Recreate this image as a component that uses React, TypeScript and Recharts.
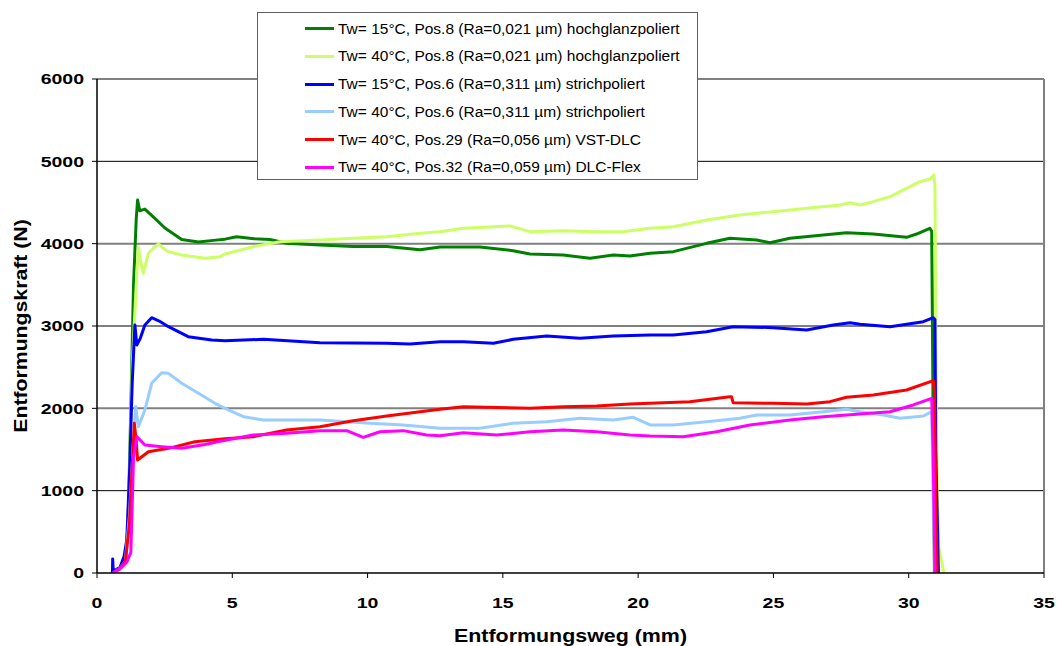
import React from 'react';
import { LineChart, Line, XAxis, YAxis, ReferenceLine, Label } from 'recharts';

// [Entformungsweg (mm), Entformungskraft (N)]
const TW15_POS8: [number, number][] = [
  [0.6, 0], [0.85, 60], [1.05, 140], [1.15, 600], [1.25, 2000], [1.35, 3500], [1.45, 4300], [1.5, 4530],
  [1.58, 4400], [1.77, 4420], [2.1, 4320], [2.51, 4190], [3.13, 4050], [3.75, 4020], [4.3, 4040], [4.73, 4055],
  [5.16, 4085], [5.8, 4060], [6.39, 4050], [7.01, 4005], [8.24, 3985], [9.47, 3965], [10.71, 3965], [11.94, 3925],
  [12.68, 3960], [14.15, 3960], [15.38, 3915], [16.0, 3875], [17.23, 3862], [18.22, 3822], [19.08, 3862], [19.7, 3850],
  [20.44, 3883], [21.3, 3903], [22.53, 4004], [23.39, 4065], [24.38, 4045], [24.87, 4012], [25.61, 4065], [26.84, 4105],
  [27.7, 4134], [28.69, 4117], [29.92, 4077], [30.29, 4117], [30.78, 4187], [30.85, 4150], [30.9, 2000], [30.95, 0],
];

const TW40_POS8: [number, number][] = [
  [0.6, 0], [0.85, 60], [1.05, 140], [1.15, 600], [1.3, 2500], [1.45, 3500], [1.53, 3963], [1.6, 3800],
  [1.71, 3640], [1.9, 3883], [2.1, 3950], [2.27, 3996], [2.45, 3944], [2.64, 3903], [3.13, 3862], [3.99, 3822],
  [4.55, 3842], [4.73, 3875], [5.78, 3963], [6.76, 4024], [8.24, 4045], [9.47, 4065], [10.71, 4085], [11.94, 4126],
  [12.68, 4146], [13.54, 4186], [15.26, 4215], [16.0, 4146], [17.23, 4158], [18.47, 4146], [19.45, 4146], [20.44, 4186],
  [21.3, 4206], [22.53, 4288], [23.76, 4348], [24.99, 4389], [26.23, 4430], [27.46, 4470], [27.83, 4498], [28.2, 4470],
  [28.69, 4510], [29.31, 4571], [29.92, 4672], [30.41, 4753], [30.78, 4782], [30.93, 4834], [30.97, 4700], [31.0, 3000],
  [31.05, 1000], [31.12, 300], [31.3, 0],
];

const TW15_POS6: [number, number][] = [
  [0.57, 0], [0.58, 170], [0.6, 20], [0.85, 70], [1.0, 200], [1.1, 400], [1.2, 1200], [1.3, 2300], [1.4, 3012],
  [1.47, 2770], [1.6, 2850], [1.77, 3012], [2.02, 3101], [2.3, 3060], [2.64, 2992], [3.37, 2870], [4.24, 2830],
  [4.73, 2822], [6.15, 2838], [8.24, 2797], [10.71, 2790], [11.57, 2781], [12.68, 2810], [13.54, 2810], [14.65, 2790],
  [15.38, 2838], [16.62, 2879], [17.85, 2851], [19.08, 2879], [20.44, 2891], [21.3, 2891], [22.53, 2931], [23.51, 2992],
  [24.99, 2980], [26.23, 2951], [27.21, 3012], [27.83, 3040], [28.2, 3021], [29.31, 2992], [30.54, 3052], [30.91, 3101],
  [30.97, 3080], [31.0, 1500], [31.1, 0],
];

const TW40_POS6: [number, number][] = [
  [0.6, 0], [0.85, 60], [1.05, 140], [1.2, 700], [1.35, 1600], [1.43, 2020], [1.53, 1777], [1.77, 1980],
  [2.02, 2304], [2.39, 2433], [2.64, 2425], [3.13, 2304], [3.75, 2183], [4.36, 2061], [4.73, 2000], [5.41, 1899],
  [6.15, 1858], [7.01, 1858], [8.24, 1858], [10.09, 1818], [11.32, 1798], [12.68, 1757], [14.15, 1757], [15.38, 1818],
  [16.62, 1838], [17.85, 1879], [19.08, 1858], [19.82, 1891], [20.44, 1798], [21.3, 1798], [22.53, 1838], [23.76, 1879],
  [24.38, 1919], [25.61, 1919], [26.84, 1959], [27.7, 1988], [28.2, 1959], [29.06, 1919], [29.68, 1879], [30.54, 1907],
  [30.85, 1959], [30.9, 1000], [30.97, 0],
];

const TW40_POS29: [number, number][] = [
  [0.6, 0], [0.85, 60], [1.05, 140], [1.2, 600], [1.3, 1300], [1.38, 1818], [1.45, 1600], [1.5, 1372],
  [1.9, 1473], [2.64, 1514], [3.62, 1595], [4.73, 1630], [5.78, 1656], [7.01, 1737], [8.24, 1777], [9.47, 1850],
  [10.71, 1907], [11.94, 1959], [12.68, 1988], [13.54, 2020], [16.0, 2000], [17.23, 2020], [18.47, 2028], [19.7, 2053],
  [20.44, 2061], [21.91, 2081], [23.39, 2142], [23.45, 2142], [23.51, 2069], [24.99, 2061], [26.23, 2053], [27.09, 2081],
  [27.7, 2134], [28.69, 2162], [29.92, 2223], [30.91, 2336], [30.95, 2200], [31.0, 1000], [31.05, 0],
];

const TW40_POS32: [number, number][] = [
  [0.6, 0], [0.85, 50], [1.1, 130], [1.25, 250], [1.3, 800], [1.35, 1400], [1.47, 1656], [1.77, 1555],
  [2.39, 1534], [3.13, 1514], [3.99, 1560], [4.55, 1600], [5.78, 1676], [7.01, 1697], [8.24, 1729], [9.23, 1729],
  [9.84, 1648], [10.46, 1716], [11.32, 1729], [12.18, 1676], [12.68, 1668], [13.54, 1704], [14.77, 1676], [16.0, 1716],
  [17.23, 1737], [18.47, 1716], [19.7, 1676], [20.44, 1664], [21.67, 1656], [22.9, 1716], [24.13, 1798], [25.61, 1858],
  [26.84, 1899], [28.2, 1931], [29.31, 1959], [30.17, 2041], [30.85, 2122], [30.9, 1500], [30.97, 0],
];

const SERIES_NAMES = [
  'Tw= 15°C, Pos.8 (Ra=0,021 µm) hochglanzpoliert',
  'Tw= 40°C, Pos.8 (Ra=0,021 µm) hochglanzpoliert',
  'Tw= 15°C, Pos.6 (Ra=0,311 µm) strichpoliert',
  'Tw= 40°C, Pos.6 (Ra=0,311 µm) strichpoliert',
  'Tw= 40°C, Pos.29 (Ra=0,056 µm) VST-DLC',
  'Tw= 40°C, Pos.32 (Ra=0,059 µm) DLC-Flex',
];
const SERIES_DATA = [TW15_POS8, TW40_POS8, TW15_POS6, TW40_POS6, TW40_POS29, TW40_POS32];
const SERIES_COLORS = ['#008000', '#CCFF66', '#0000FF', '#99CCFF', '#FF0000', '#FF00FF'];

const X_TICKS = [0, 5, 10, 15, 20, 25, 30, 35];
const Y_TICKS = [0, 1000, 2000, 3000, 4000, 5000, 6000];
const X_TITLE = 'Entformungsweg (mm)';
const Y_TITLE = 'Entformungskraft (N)';

const FONT = '"Liberation Sans", Arial, sans-serif';

const XTick = (props: any) => {
  const { x, y, payload } = props;
  return (
    <g transform={`translate(${x},${y})`}>
      <text transform="scale(1.3,1)" textAnchor="middle" dy="0.71em" fontSize={15} fontWeight="bold" fill="#000" fontFamily={FONT}>
        {payload.value}
      </text>
    </g>
  );
};

const YTick = (props: any) => {
  const { x, y, payload } = props;
  return (
    <g transform={`translate(${x},${y})`}>
      <text transform="scale(1.3,1)" textAnchor="end" dy="0.35em" fontSize={15} fontWeight="bold" fill="#000" fontFamily={FONT}>
        {payload.value}
      </text>
    </g>
  );
};

const XTitle = (props: any) => {
  const vb = props.viewBox || {};
  const cx = vb.x + vb.width / 2;
  return (
    <g transform={`translate(${cx},642)`}>
      <text transform="scale(1.19,1)" textAnchor="middle" fontSize={18} fontWeight="bold" fill="#000" fontFamily={FONT}>
        {X_TITLE}
      </text>
    </g>
  );
};

const YTitle = (props: any) => {
  const vb = props.viewBox || {};
  const cy = vb.y + vb.height / 2;
  return (
    <g transform={`translate(27,${cy}) rotate(-90)`}>
      <text transform="scale(1.18,1)" textAnchor="middle" fontSize={18} fontWeight="bold" fill="#000" fontFamily={FONT}>
        {Y_TITLE}
      </text>
    </g>
  );
};

export default function App() {
  return (
    <div style={{ position: 'absolute', left: 0, top: 0, width: 1057, height: 646, background: '#fff' }}>
      <LineChart width={1057} height={646} margin={{ top: 79, right: 13, bottom: 33, left: 37 }}>
        <XAxis
          dataKey="x"
          type="number"
          domain={[0, 35]}
          ticks={X_TICKS}
          allowDataOverflow
          tick={<XTick />}
          tickSize={5}
          tickMargin={19}
          height={40}
          stroke="#000"
          axisLine={{ stroke: '#000', strokeWidth: 1.5 }}
          tickLine={{ stroke: '#000' }}
        >
          <Label content={<XTitle />} />
        </XAxis>
        <YAxis
          dataKey="y"
          type="number"
          domain={[0, 6000]}
          ticks={Y_TICKS}
          allowDataOverflow
          tick={<YTick />}
          tickSize={5}
          tickMargin={8}
          width={60}
          stroke="#000"
          axisLine={{ stroke: '#000', strokeWidth: 1.5 }}
          tickLine={{ stroke: '#000' }}
        >
          <Label content={<YTitle />} />
        </YAxis>
        {Y_TICKS.filter((t) => t > 0).map((t) => (
          <ReferenceLine
            key={t}
            y={t}
            stroke={(t / 1000) % 2 === 0 ? '#808080' : '#000'}
            strokeWidth={(t / 1000) % 2 === 0 ? 2 : 1}
            ifOverflow="extendDomain"
          />
        ))}
        <ReferenceLine x={35} stroke="#808080" strokeWidth={2} />
        {SERIES_DATA.map((d, i) => (
          <Line
            key={SERIES_NAMES[i]}
            name={SERIES_NAMES[i]}
            data={d.map(([x, y]) => ({ x, y }))}
            dataKey="y"
            type="linear"
            stroke={SERIES_COLORS[i]}
            strokeWidth={3}
            strokeLinejoin="round"
            dot={false}
            activeDot={false}
            isAnimationActive={false}
          />
        ))}
      </LineChart>
      <div
        style={{
          position: 'absolute',
          left: 257,
          top: 12,
          width: 439,
          height: 166,
          border: '1px solid #606060',
          background: '#fff',
          fontFamily: FONT,
          fontSize: 15.5,
          color: '#000',
        }}
      >
        {SERIES_NAMES.map((name, i) => (
          <div key={name} style={{ position: 'absolute', left: 0, top: 15.7 + i * 27.7 - 10, height: 20, width: 439 }}>
            <div
              style={{
                position: 'absolute',
                left: 47,
                top: 8.5,
                width: 29,
                height: 3,
                background: SERIES_COLORS[i],
              }}
            />
            <div style={{ position: 'absolute', left: 80, top: 0, lineHeight: '20px', whiteSpace: 'nowrap' }}>{name}</div>
          </div>
        ))}
      </div>
    </div>
  );
}
